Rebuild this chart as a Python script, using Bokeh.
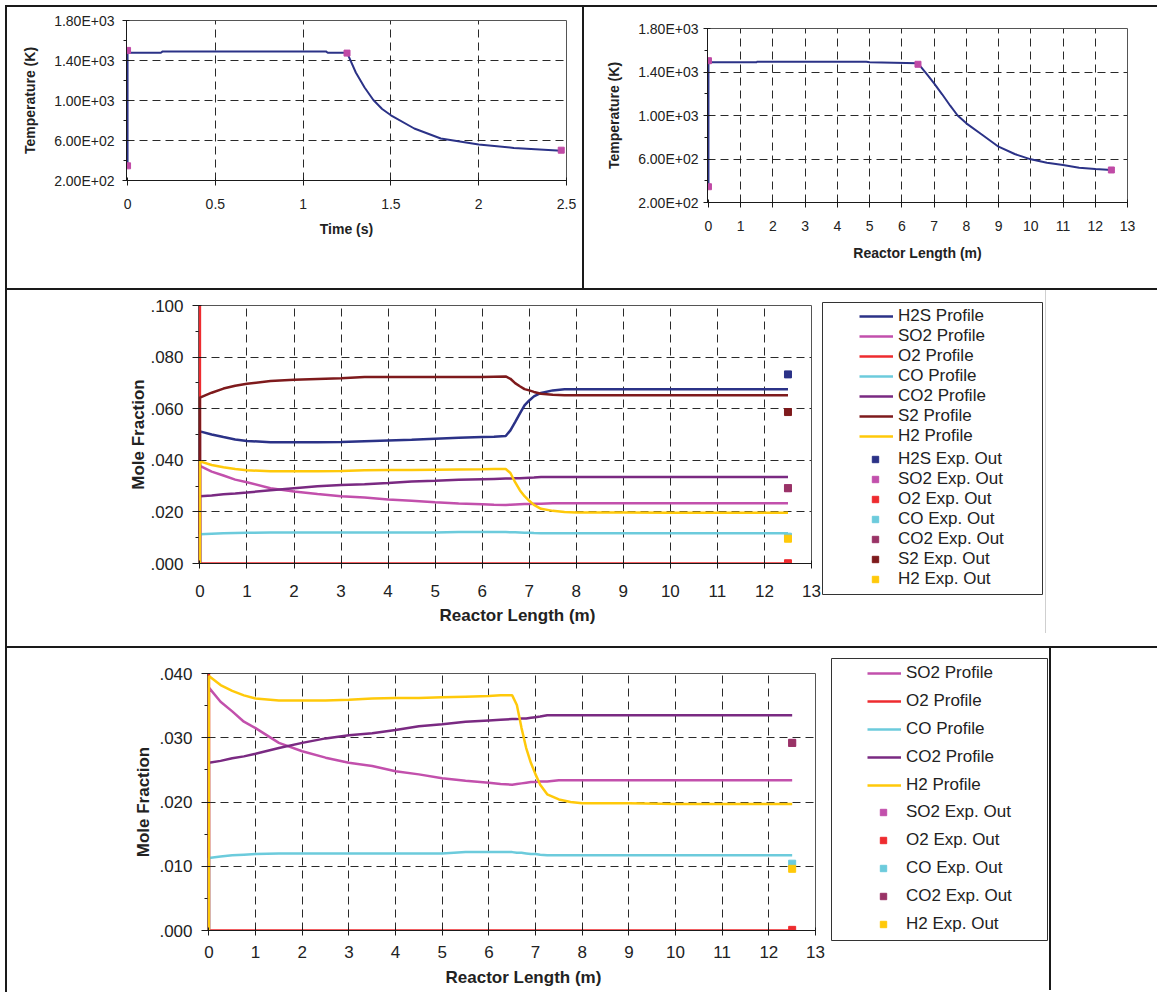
import numpy as np
from bokeh.plotting import figure
from bokeh.models import Range1d, FixedTicker, Legend, LegendItem, Title, Spacer
from bokeh.layouts import row, column
from bokeh.embed import file_html
from bokeh.resources import INLINE

FONT = "Liberation Sans"
INK = "#1a1a1a"
TXT = "#222222"

# ---------------- data ----------------
# Temperature profile vs residence time
time_s = [0, 0, 0.19, 0.2, 1.13, 1.14, 1.25, 1.30, 1.35, 1.40, 1.45, 1.5, 1.633, 1.784, 2.0, 2.2, 2.47]
temp_time_K = [345, 1478, 1478, 1491, 1491, 1478, 1478, 1280, 1130, 1005, 915, 852, 720, 620, 560, 526, 497]
time_pts_s = [0, 0, 1.25, 2.47]
temp_time_pts_K = [1501, 347, 1474, 503]

# Temperature profile vs reactor length
length_T_m = [0, 0, 1.5, 1.5, 4.9, 5.0, 6.5, 6.75, 7.0, 7.25, 7.5, 7.73, 8.0, 8.5, 9.0, 9.5, 10.0, 10.5, 11.0, 11.5, 12.0, 12.5]
temp_length_K = [345, 1489, 1489, 1495, 1495, 1489, 1480, 1390, 1296, 1195, 1090, 1000, 928, 821, 713, 646, 597, 566, 545, 520, 508, 499]
length_pts_m = [0, 0, 6.5, 12.5]
temp_length_pts_K = [1504, 345, 1471, 499]

# Mole-fraction profiles vs reactor length
length_m = [0, 0, 0.25, 0.5, 0.75, 1.0, 1.5, 2.0, 2.5, 3.0, 3.5, 4.0, 4.5, 5.0, 5.5, 6.0, 6.25, 6.5,
            6.6, 6.7, 6.8, 6.9, 7.0, 7.1, 7.25, 7.5, 7.75, 8.0, 9.0, 10.0, 11.0, 12.0, 12.5]
h2s = [0, .0512, .0500, .0490, .0481, .0475, .0470, .0470, .0470, .0471, .0474, .0477, .0480, .0484, .0487, .0490, .0491, .0494,
       .0516, .0548, .0581, .0613, .0632, .0648, .0661, .0671, .0675, .0675, .0675, .0675, .0675, .0675, .0675]
so2 = [0, .0378, .0356, .0341, .0325, .0315, .0292, .0279, .0269, .0261, .0256, .0248, .0243, .0237, .0233, .0230, .0228, .0227,
       .0228, .0229, .0230, .0231, .0231, .0232, .0232, .0234, .0234, .0234, .0234, .0234, .0234, .0234, .0234]
o2 = [.102, 0, 0, 0, 0, 0, 0, 0, 0, 0, 0, 0, 0, 0, 0, 0, 0, 0,
      0, 0, 0, 0, 0, 0, 0, 0, 0, 0, 0, 0, 0, 0, 0]
co = [0, .0113, .0115, .0117, .0118, .0119, .0120, .0120, .0120, .0120, .0120, .0120, .0120, .0120, .0122, .0122, .0122, .0122,
      .0121, .0121, .0120, .0119, .0119, .0118, .0117, .0117, .0117, .0117, .0117, .0117, .0117, .0117, .0117]
co2 = [0, .0261, .0264, .0268, .0271, .0275, .0284, .0292, .0299, .0304, .0307, .0312, .0318, .0321, .0325, .0327, .0328, .0329,
       .0329, .0330, .0330, .0331, .0332, .0333, .0335, .0335, .0335, .0335, .0335, .0335, .0335, .0335, .0335]
s2 = [0, .0643, .0662, .0678, .0689, .0697, .0707, .0712, .0715, .0718, .0723, .0723, .0723, .0723, .0723, .0723, .0724, .0725,
      .0716, .0699, .0687, .0676, .0671, .0665, .0658, .0654, .0652, .0652, .0652, .0652, .0652, .0652, .0652]
h2 = [0, .0396, .0382, .0373, .0366, .0361, .0358, .0358, .0358, .0359, .0361, .0362, .0362, .0363, .0364, .0365, .0366, .0366,
      .0351, .0315, .0284, .0261, .0243, .0227, .0212, .0204, .0200, .0198, .0198, .0197, .0197, .0197, .0197]

# Experimental outlet values (at reactor exit)
exp_length_m = [12.5]
exp_h2s = [.0733]
exp_so2 = [.0292]
exp_o2 = [.0001]
exp_co = [.0104]
exp_co2 = [.0292]
exp_s2 = [.0587]
exp_h2 = [.0096]

# ticks
temp_ticks = [200, 600, 1000, 1400, 1800]
temp_tick_labels = ["2.00E+02", "6.00E+02", "1.00E+03", "1.40E+03", "1.80E+03"]
temp_minor = [400, 800, 1200, 1600]
time_ticks = [0, 0.5, 1, 1.5, 2, 2.5]
time_tick_labels = ["0", "0.5", "1", "1.5", "2", "2.5"]
len_ticks = list(range(14))
len_tick_labels = [str(v) for v in len_ticks]
mf_ticks = [0, 0.02, 0.04, 0.06, 0.08, 0.1]
mf_tick_labels = [".000", ".020", ".040", ".060", ".080", ".100"]
mf_minor = [0.01, 0.03, 0.05, 0.07, 0.09]
mf2_ticks = [0, 0.01, 0.02, 0.03, 0.04]
mf2_tick_labels = [".000", ".010", ".020", ".030", ".040"]
mf2_minor = [0.005, 0.015, 0.025, 0.035]

# series appearance
C = {"H2S": "#2B3287", "SO2": "#C250AC", "O2": "#EE2B2F", "CO": "#6CCBDC",
     "CO2": "#7A2A82", "S2": "#7E1A1C", "H2": "#FFC90A"}
EXPC = {"H2S": "#2B3287", "SO2": "#C250AC", "O2": "#EE2B2F", "CO": "#6CCBDC",
        "CO2": "#993366", "S2": "#7E1A1C", "H2": "#FFC90A"}
T_LINE = "#2B3287"
T_PT = "#C04AA6"
LINE_C = "#1a1a1a"


def no_align(p):
    try:
        p.frame_align = False
    except Exception:
        pass
    return p


def hline(w, t=2, color=LINE_C):
    return Spacer(width=w, height=t, styles={"background-color": color})


def vline(h, t=2, color=LINE_C):
    return Spacer(width=t, height=h, styles={"background-color": color})


def make_fig(w, h, left, right, top, bottom, xr, yr):
    p = figure(width=w, height=h, x_range=Range1d(*xr), y_range=Range1d(*yr),
               output_backend="svg", toolbar_location=None,
               min_border_left=left, min_border_right=right,
               min_border_top=top, min_border_bottom=bottom,
               outline_line_color="#555555", outline_line_width=1,
               background_fill_color="white", border_fill_color="white")
    return no_align(p)


def style_axes(p, xt, xl, xg, yt, yl, ym, yg, fs, xstand, ystand, ytick_out,
               xlab=None, ylab=None, lfs=14, xls=10, yls=10, yaxis_line=True):
    xa, ya = p.xaxis[0], p.yaxis[0]
    xa.ticker = FixedTicker(ticks=xt)
    xa.major_label_overrides = dict(zip(xt, xl))
    ya.ticker = FixedTicker(ticks=yt, minor_ticks=ym)
    ya.major_label_overrides = dict(zip(yt, yl))
    for ax in (xa, ya):
        ax.axis_line_color = INK
        ax.axis_line_width = 1
        ax.major_tick_line_color = INK
        ax.minor_tick_line_color = INK
        ax.major_tick_in = 3
        ax.minor_tick_in = 0
        ax.minor_tick_out = 3
        ax.major_label_text_font = FONT
        ax.major_label_text_font_size = f"{fs}px"
        ax.major_label_text_color = TXT
        ax.axis_label_text_font = FONT
        ax.axis_label_text_font_style = "bold"
        ax.axis_label_text_font_size = f"{lfs}px"
        ax.axis_label_text_color = TXT
    xa.major_tick_out = 5
    ya.major_tick_out = ytick_out
    xa.major_label_standoff = xstand
    ya.major_label_standoff = ystand
    if not yaxis_line:
        ya.axis_line_color = None
    if xlab:
        xa.axis_label = xlab
        xa.axis_label_standoff = xls
    if ylab:
        ya.axis_label = ylab
        ya.axis_label_standoff = yls
    p.xgrid.ticker = FixedTicker(ticks=xg)
    p.ygrid.ticker = FixedTicker(ticks=yg)
    p.grid.grid_line_color = "#2a2a2a"
    p.grid.grid_line_width = 1
    p.grid.grid_line_dash = "8 5"


def legend_fig(w, h, left, right, top, bottom, line_specs, mark_specs, line_loc, mark_loc, spacing):
    # ranges far from the data: the proxy renderers only lend their style to the legend
    lf = figure(width=w, height=h, x_range=Range1d(-20, -19), y_range=Range1d(-20, -19),
                x_axis_type=None, y_axis_type=None,
                output_backend="svg", toolbar_location=None,
                min_border_left=left, min_border_right=right,
                min_border_top=top, min_border_bottom=bottom,
                outline_line_color="#333333", outline_line_width=1,
                background_fill_color="white", border_fill_color="white")
    no_align(lf)
    lf.grid.visible = False
    line_items = [LegendItem(label=lab, renderers=[lf.line(xs, ys, line_color=col, line_width=2.5)])
                  for lab, col, xs, ys in line_specs]
    mark_items = [LegendItem(label=lab, renderers=[lf.scatter(xs, ys, marker="square", color=col)])
                  for lab, col, xs, ys in mark_specs]
    common = dict(padding=0, margin=0, spacing=spacing, glyph_height=20, label_height=20,
                  border_line_alpha=0, background_fill_alpha=0,
                  label_text_font=FONT, label_text_font_size="17px", label_text_color=TXT)
    lf.add_layout(Legend(items=line_items, location=line_loc, glyph_width=34, label_standoff=5, **common), "center")
    lf.add_layout(Legend(items=mark_items, location=mark_loc, glyph_width=16, label_standoff=15, **common), "center")
    return lf


# ---------------- panel A: temperature vs time ----------------
pA = make_fig(575, 281, 119, 16, 13, 108, (-0.006, 2.5), (200, 1800))
style_axes(pA, time_ticks, time_tick_labels, time_ticks[1:-1], temp_ticks, temp_tick_labels,
           temp_minor, temp_ticks[1:-1], 14, 13, 8, 4,
           xlab="Time (s)", ylab="Temperature (K)", lfs=14, xls=9, yls=13)
pA.line(time_s, temp_time_K, line_color=T_LINE, line_width=2)
pA.scatter(time_pts_s, temp_time_pts_K, marker="square", size=6, color=T_PT)

# ---------------- panel B: temperature vs length ----------------
pB = make_fig(565, 281, 123, 22, 21, 86, (-0.03, 13), (200, 1800))
style_axes(pB, len_ticks, len_tick_labels, len_ticks[1:-1], temp_ticks, temp_tick_labels,
           temp_minor, temp_ticks[1:-1], 14, 13, 5, 4,
           xlab="Reactor Length (m)", ylab="Temperature (K)", lfs=14, xls=11, yls=13)
pB.line(length_T_m, temp_length_K, line_color=T_LINE, line_width=2)
pB.scatter(length_pts_m, temp_length_pts_K, marker="square", size=6, color=T_PT)

# ---------------- panel C: all species ----------------
pC = make_fig(815, 356, 191, 11, 15, 83, (-0.03, 13), (0, 0.1))
style_axes(pC, len_ticks, len_tick_labels, len_ticks[1:-1], mf_ticks, mf_tick_labels,
           mf_minor, mf_ticks[1:-1], 17, 16, 9, 6,
           ylab="Mole Fraction", lfs=17, yls=-1, yaxis_line=False)
pC.add_layout(Title(text="Reactor Length (m)", align="left", offset=241, standoff=8,
                    text_font=FONT, text_font_size="17px", text_font_style="bold",
                    text_color=TXT), "below")
names_C = ["H2S", "SO2", "O2", "CO", "CO2", "S2", "H2"]
prof_C = [h2s, so2, o2, co, co2, s2, h2]
exp_C = [exp_h2s, exp_so2, exp_o2, exp_co, exp_co2, exp_s2, exp_h2]
for n, v in zip(names_C, prof_C):
    pC.line(length_m, v, line_color=C[n], line_width=2.5)
for n, v in zip(names_C, exp_C):
    pC.scatter(exp_length_m, v, marker="square", size=7, color=EXPC[n])
legC = legend_fig(223, 356, 0, 3, 12, 52,
                  [(f"{n} Profile", C[n], length_m, v) for n, v in zip(names_C, prof_C)],
                  [(f"{n} Exp. Out", EXPC[n], exp_length_m, v) for n, v in zip(names_C, exp_C)],
                  (37, 148), (45, 5), 0)

# ---------------- panel D: minor species ----------------
pD = make_fig(824, 344, 200, 16, 25, 61, (-0.03, 13), (0, 0.04))
style_axes(pD, len_ticks, len_tick_labels, len_ticks[1:-1], mf2_ticks, mf2_tick_labels,
           mf2_minor, mf2_ticks[1:-1], 17, 10, 9, 6,
           ylab="Mole Fraction", lfs=17, yls=3, yaxis_line=False)
pD.add_layout(Title(text="Reactor Length (m)", align="left", offset=238, standoff=11,
                    text_font=FONT, text_font_size="17px", text_font_style="bold",
                    text_color=TXT), "below")
names_D = ["SO2", "O2", "CO", "CO2", "H2"]
prof_D = [so2, o2, co, co2, h2]
exp_D = [exp_so2, exp_o2, exp_co, exp_co2, exp_h2]
for n, v in zip(names_D, prof_D):
    pD.line(length_m, v, line_color=C[n], line_width=2.5)
for n, v in zip(names_D, exp_D):
    pD.scatter(exp_length_m, v, marker="square", size=7, color=EXPC[n])
legD = legend_fig(218, 344, 0, 2, 10, 52,
                  [(f"{n} Profile", C[n], length_m, v) for n, v in zip(names_D, prof_D)],
                  [(f"{n} Exp. Out", EXPC[n], exp_length_m, v) for n, v in zip(names_D, exp_D)],
                  (36, 145), (44, 6), 8)

row1 = row(vline(281), pA, vline(281), pB)
row2 = row(vline(356), pC, legC, vline(343, 1, "#cfcfcf"), Spacer(width=111, height=356))
row3 = row(vline(344), pD, legD, vline(342))
root = column(hline(1152), row1, hline(1152), row2, hline(1152), row3, margin=(5, 0, 0, 5))

open("out.html", "w").write(file_html(root, INLINE))
